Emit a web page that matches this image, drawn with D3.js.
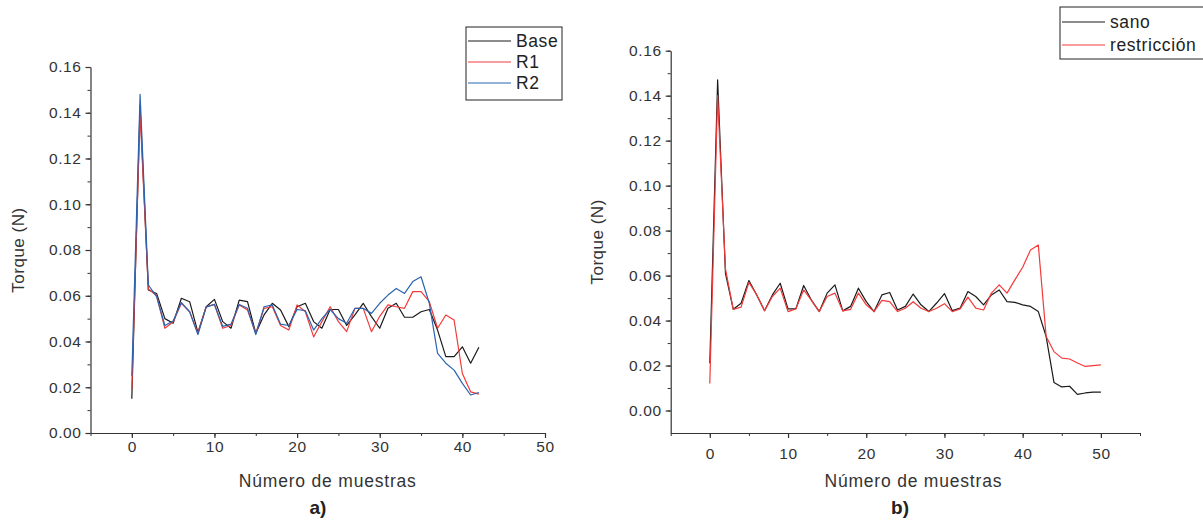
<!DOCTYPE html>
<html>
<head>
<meta charset="utf-8">
<script src="https://cdn.jsdelivr.net/npm/d3@7"></script>
<style>
  body { margin: 0; background: #fff; }
  svg { display: block; font-family: "Liberation Sans", Arial, sans-serif; }
</style>
</head>
<body>
<svg id="chart" width="1203" height="521"></svg>
<script>
// Panel a): torque per sample for the base condition and two restrictions
const samplesA = d3.range(0, 43);
const baseA = [0.015, 0.143, 0.0625, 0.061, 0.050, 0.048, 0.0589, 0.0574, 0.044, 0.0552,
  0.0584, 0.0487, 0.0458, 0.0581, 0.0574, 0.0436, 0.0516, 0.0567, 0.0538, 0.0465,
  0.0552, 0.0567, 0.0487, 0.0458, 0.054, 0.054, 0.047, 0.0516, 0.0567, 0.0509,
  0.0458, 0.0545, 0.0567, 0.0506, 0.0506, 0.053, 0.054, 0.045, 0.0334, 0.0334,
  0.0377, 0.0305, 0.0375];
const r1A = [0.019, 0.140, 0.063, 0.060, 0.0458, 0.0486, 0.0567, 0.053, 0.0436, 0.0552,
  0.0562, 0.0458, 0.047, 0.056, 0.0538, 0.0436, 0.0545, 0.0552, 0.047, 0.045,
  0.056, 0.053, 0.042, 0.0487, 0.0552, 0.0487, 0.0443, 0.0545, 0.0545, 0.0443,
  0.051, 0.056, 0.0552, 0.0545, 0.0618, 0.0618, 0.0574, 0.0458, 0.0516, 0.0494,
  0.026, 0.018, 0.017];
const r2A = [0.025, 0.148, 0.0647, 0.0596, 0.047, 0.049, 0.057, 0.053, 0.043, 0.055,
  0.0562, 0.0466, 0.0476, 0.0562, 0.0545, 0.043, 0.0552, 0.056, 0.0476, 0.047,
  0.054, 0.0535, 0.045, 0.050, 0.054, 0.050, 0.048, 0.0545, 0.0545, 0.0523,
  0.0567, 0.0603, 0.0632, 0.061, 0.0662, 0.0683, 0.0567, 0.0348, 0.0305, 0.0275,
  0.0217, 0.0166, 0.0177];

// Panel b): healthy vs restricted
const samplesB = d3.range(0, 51);
const sanoB = [0.021, 0.147, 0.061, 0.045, 0.0477, 0.0578, 0.0514, 0.0444, 0.0514, 0.0566,
  0.0452, 0.0452, 0.0556, 0.049, 0.044, 0.0522, 0.0559, 0.0443, 0.0463, 0.0544,
  0.0484, 0.044, 0.0514, 0.0525, 0.0447, 0.0463, 0.0518, 0.047, 0.044, 0.0478,
  0.052, 0.0444, 0.0455, 0.0529, 0.0507, 0.047, 0.0514, 0.0536, 0.0484, 0.0481,
  0.047, 0.0463, 0.044, 0.0329, 0.0125, 0.0105, 0.0108, 0.0072, 0.0078, 0.0082,
  0.0082];
const restriccionB = [0.012, 0.140, 0.063, 0.045, 0.046, 0.057, 0.0514, 0.0444, 0.0507, 0.0544,
  0.044, 0.0452, 0.0536, 0.049, 0.044, 0.0507, 0.0522, 0.0443, 0.045, 0.0522,
  0.047, 0.044, 0.049, 0.0484, 0.044, 0.0455, 0.0484, 0.0455, 0.044, 0.0455,
  0.0475, 0.044, 0.0452, 0.0504, 0.0455, 0.0447, 0.0522, 0.0559, 0.0522, 0.0581,
  0.0637, 0.0714, 0.0736, 0.0329, 0.0262, 0.0233, 0.0229, 0.0211, 0.0196, 0.020,
  0.0203];

const xTicks = [0, 10, 20, 30, 40, 50];
const yTicks = [0, 0.02, 0.04, 0.06, 0.08, 0.10, 0.12, 0.14, 0.16];
const yMinor = d3.range(0, 17).map(i => i * 0.01);
const xMinorA = d3.range(-5, 51, 5);
const xMinorB = d3.range(-5, 56, 5);

const BLACK = "#1a1a1a", RED = "#f23a3a", BLUE = "#2a64b0";

const svg = d3.select("#chart");

function panel(cfg) {
  const x = d3.scaleLinear().domain(cfg.xDomain).range([cfg.left, cfg.right]);
  const y = d3.scaleLinear().domain(cfg.yDomain).range([cfg.bottom, cfg.top]);
  const g = svg.append("g");

  // minor ticks
  g.append("g").attr("transform", `translate(0,${cfg.bottom})`)
    .call(d3.axisBottom(x).tickValues(cfg.xMinor).tickSize(3).tickFormat(""))
    .call(a => a.select(".domain").remove());
  g.append("g").attr("transform", `translate(${cfg.left},0)`)
    .call(d3.axisLeft(y).tickValues(yMinor.filter(v => v >= cfg.yDomain[0] - 1e-9)).tickSize(3).tickFormat(""))
    .call(a => a.select(".domain").remove());

  // major axes
  const xa = g.append("g").attr("transform", `translate(0,${cfg.bottom})`)
    .call(d3.axisBottom(x).tickValues(xTicks).tickSize(5).tickSizeOuter(0).tickPadding(cfg.xPad));
  const ya = g.append("g").attr("transform", `translate(${cfg.left},0)`)
    .call(d3.axisLeft(y).tickValues(yTicks).tickSize(5).tickSizeOuter(0).tickFormat(d3.format(".2f")).tickPadding(4));
  [xa, ya].forEach(a => {
    a.selectAll(".domain, line").attr("stroke", "#333").attr("stroke-width", 1.2);
    a.selectAll("text").attr("fill", "#333").style("font-size", "15.5px").style("letter-spacing", "0.6px");
  });
  g.selectAll("line").attr("stroke", "#333");

  // series
  const clipId = "clip" + cfg.id;
  svg.append("clipPath").attr("id", clipId).append("rect")
    .attr("x", cfg.left).attr("y", cfg.top - 20).attr("width", cfg.right - cfg.left).attr("height", cfg.bottom - cfg.top + 20);
  cfg.series.forEach(s => {
    const line = d3.line().x((d, i) => x(cfg.samples[i])).y(d => y(d));
    g.append("path").datum(s.values)
      .attr("clip-path", `url(#${clipId})`)
      .attr("fill", "none").attr("stroke", s.color).attr("stroke-width", 1.2)
      .attr("stroke-linejoin", "round").attr("d", line);
  });

  // axis titles
  g.append("text").attr("transform", `translate(${cfg.yTitleX},${(cfg.top + cfg.bottom) / 2}) rotate(-90)`)
    .attr("text-anchor", "middle").attr("fill", "#333").style("font-size", "17px")
    .style("letter-spacing", "0.5px").text("Torque (N)");
  g.append("text").attr("x", (cfg.left + cfg.right) / 2 + cfg.xTitleDx).attr("y", cfg.xTitleY)
    .attr("text-anchor", "middle").attr("fill", "#333").style("font-size", "17.5px")
    .style("letter-spacing", "0.8px").text("Número de muestras");
  g.append("text").attr("x", cfg.tagX).attr("y", 514)
    .attr("text-anchor", "middle").attr("fill", "#222").style("font-size", "19px").style("font-weight", "bold").text(cfg.tag);

  // legend
  const L = cfg.legend;
  g.append("rect").attr("x", L.x).attr("y", L.y).attr("width", L.w).attr("height", L.h)
    .attr("fill", "#fff").attr("stroke", "#222").attr("stroke-width", 1);
  cfg.series.forEach((s, i) => {
    const yy = L.y + L.first + i * L.step;
    g.append("line").attr("x1", L.x + 2).attr("x2", L.x + 45).attr("y1", yy).attr("y2", yy)
      .attr("stroke", s.color).attr("stroke-width", 1.2);
    g.append("text").attr("x", L.x + 50).attr("y", yy + 6).attr("fill", "#222")
      .style("font-size", "17.5px").style("letter-spacing", "0.6px").text(s.name);
  });
}

panel({
  id: "A", xDomain: [-5, 50], yDomain: [0, 0.16],
  left: 90.5, right: 545, top: 67, bottom: 433, xPad: 3,
  xMinor: xMinorA, samples: samplesA,
  yTitleX: 24, xTitleDx: 10, xTitleY: 487, tagX: 318, tag: "a)",
  series: [
    { name: "Base", values: baseA, color: BLACK },
    { name: "R1", values: r1A, color: RED },
    { name: "R2", values: r2A, color: BLUE }
  ],
  legend: { x: 466, y: 27, w: 96, h: 73, first: 14, step: 21 }
});

panel({
  id: "B", xDomain: [-5, 55], yDomain: [-0.01, 0.16],
  left: 670.7, right: 1140, top: 50.7, bottom: 433, xPad: 10,
  xMinor: xMinorB, samples: samplesB,
  yTitleX: 603, xTitleDx: 8, xTitleY: 487, tagX: 900, tag: "b)",
  series: [
    { name: "sano", values: sanoB, color: BLACK },
    { name: "restricción", values: restriccionB, color: RED }
  ],
  legend: { x: 1060, y: 7, w: 160, h: 52, first: 15, step: 23 }
});
</script>
</body>
</html>
